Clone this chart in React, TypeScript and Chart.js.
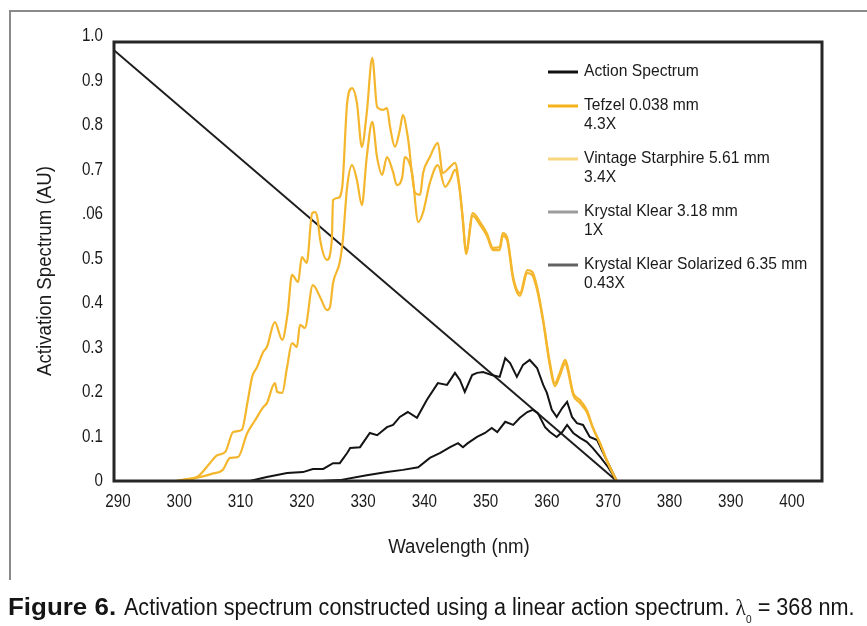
import React, { useEffect, useRef } from "react";
import { Chart, registerables } from "chart.js";

Chart.register(...registerables);

// ---- axis ticks ----
const xTickValues = [290, 300, 310, 320, 330, 340, 350, 360, 370, 380, 390, 400];
const xTickLabels = ["290", "300", "310", "320", "330", "340", "350", "360", "370", "380", "390", "400"];
const yTickValues = [0, 0.1, 0.2, 0.3, 0.4, 0.5, 0.6, 0.7, 0.8, 0.9, 1.0];
const yTickLabels = ["0", "0.1", "0.2", "0.3", "0.4", "0.5", ".06", "0.7", "0.8", "0.9", "1.0"];
const xRange = [289.35, 404.9];
const yRange = [0, 0.9865];

const xTitle = "Wavelength (nm)";
const yTitle = "Activation Spectrum (AU)";

// ---- series: [wavelength nm, activation AU] ----
const actionSpectrum: [number, number][] = [
  [289.35, 0.968],
  [371.4, 0],
];

const tefzel: [number, number][] = [
  [299.5, 0], [300.9, 0.004], [302.9, 0.009], [305.0, 0.04], [306.2, 0.058], [307.5, 0.065],
  [308.8, 0.11], [310.2, 0.115], [311.2, 0.182], [311.9, 0.234], [312.7, 0.256], [313.7, 0.29],
  [314.3, 0.301], [315.6, 0.357], [316.8, 0.317], [317.7, 0.378], [318.4, 0.463], [319.4, 0.447],
  [320.0, 0.503], [320.8, 0.49], [321.7, 0.602], [322.2, 0.604], [322.6, 0.587], [323.0, 0.542],
  [324.1, 0.497], [324.9, 0.542], [325.1, 0.631], [325.9, 0.636], [326.6, 0.661], [327.4, 0.849],
  [328.2, 0.883], [329.0, 0.849], [329.8, 0.751], [330.6, 0.827], [331.5, 0.951], [332.3, 0.84],
  [333.3, 0.834], [333.9, 0.838], [334.4, 0.796], [335.2, 0.751], [336.0, 0.789], [336.5, 0.822],
  [337.3, 0.773], [338.5, 0.647], [339.3, 0.643], [339.8, 0.692], [340.9, 0.728], [342.2, 0.76],
  [343.0, 0.692], [344.2, 0.706], [345.0, 0.715], [345.7, 0.665], [346.3, 0.587], [346.8, 0.515],
  [347.9, 0.602], [349.1, 0.582], [350.2, 0.557], [351.2, 0.524], [352.3, 0.526], [352.8, 0.557],
  [353.5, 0.548], [354.5, 0.458], [355.6, 0.422], [356.8, 0.474], [357.6, 0.47], [358.4, 0.436],
  [359.4, 0.362], [360.5, 0.265], [361.3, 0.22], [362.1, 0.243], [363.0, 0.272], [363.4, 0.256],
  [364.3, 0.198], [365.4, 0.182], [366.5, 0.16], [367.5, 0.121], [368.7, 0.085], [370.0, 0.04],
  [371.4, 0],
];

const vintageStarphire: [number, number][] = [
  [300.6, 0], [303.4, 0.009], [305.3, 0.016], [307.1, 0.025], [308.3, 0.052], [309.6, 0.054],
  [311.1, 0.108], [312.4, 0.137], [313.7, 0.166], [314.3, 0.175], [315.6, 0.22], [316.0, 0.2],
  [316.8, 0.198], [317.6, 0.256], [318.4, 0.31], [319.2, 0.301], [319.7, 0.351], [320.5, 0.344],
  [321.8, 0.44], [323.0, 0.413], [324.1, 0.384], [324.6, 0.391], [325.1, 0.445], [326.2, 0.492],
  [326.7, 0.542], [327.4, 0.661], [328.2, 0.71], [329.0, 0.676], [329.8, 0.62], [330.6, 0.728],
  [331.5, 0.807], [332.3, 0.726], [333.1, 0.688], [333.9, 0.728], [334.9, 0.694], [335.5, 0.665],
  [336.4, 0.683], [336.8, 0.728], [338.0, 0.692], [339.0, 0.582], [339.8, 0.604], [340.9, 0.67],
  [342.2, 0.71], [343.4, 0.661], [344.2, 0.676], [345.0, 0.699], [345.7, 0.661], [346.3, 0.582],
  [346.8, 0.51], [347.9, 0.596], [349.1, 0.575], [350.2, 0.551], [351.2, 0.519], [352.3, 0.519],
  [352.8, 0.551], [353.5, 0.542], [354.5, 0.452], [355.6, 0.416], [356.8, 0.467], [357.6, 0.463],
  [358.4, 0.429], [359.4, 0.357], [360.5, 0.258], [361.3, 0.213], [362.1, 0.236], [363.0, 0.265],
  [363.4, 0.249], [364.3, 0.193], [365.4, 0.175], [366.5, 0.155], [367.5, 0.119], [368.7, 0.083],
  [370.0, 0.038], [371.4, 0],
];

const krystalKlear: [number, number][] = [
  [311.5, 0], [314.3, 0.009], [317.6, 0.018], [320.2, 0.02], [321.8, 0.027], [323.5, 0.027],
  [325.1, 0.04], [326.2, 0.04], [327.4, 0.063], [327.9, 0.074], [329.5, 0.076], [331.1, 0.108],
  [332.3, 0.103], [333.9, 0.121], [334.9, 0.126], [336.0, 0.144], [337.3, 0.155], [338.8, 0.142],
  [340.4, 0.182], [342.2, 0.22], [343.7, 0.216], [345.0, 0.243], [345.8, 0.227], [346.6, 0.2],
  [347.8, 0.238], [348.6, 0.243], [349.6, 0.245], [351.0, 0.238], [352.3, 0.234], [353.2, 0.276],
  [354.0, 0.265], [355.1, 0.234], [356.1, 0.261], [357.2, 0.272], [358.4, 0.254], [359.4, 0.216],
  [360.0, 0.198], [360.8, 0.16], [361.6, 0.144], [362.5, 0.164], [363.3, 0.178], [364.1, 0.144],
  [364.9, 0.13], [365.9, 0.126], [367.0, 0.099], [368.2, 0.092], [369.5, 0.054], [371.4, 0],
];

const krystalKlearSolarized: [number, number][] = [
  [323.0, 0], [326.2, 0.002], [330.6, 0.013], [333.9, 0.02], [336.5, 0.025], [339.0, 0.031],
  [340.9, 0.052], [342.6, 0.063], [344.2, 0.076], [345.5, 0.085], [346.3, 0.076], [347.1, 0.085],
  [348.6, 0.099], [349.9, 0.108], [351.0, 0.119], [351.9, 0.11], [353.2, 0.133], [354.5, 0.126],
  [355.6, 0.142], [356.8, 0.155], [357.7, 0.16], [358.5, 0.153], [359.7, 0.121], [360.5, 0.11],
  [361.6, 0.099], [362.5, 0.11], [363.3, 0.126], [364.3, 0.108], [365.4, 0.097], [366.5, 0.088],
  [367.5, 0.074], [368.7, 0.054], [370.0, 0.031], [371.4, 0],
];

// ---- legend ----
const legendLabels: string[][] = [
  ["Action Spectrum"],
  ["Tefzel 0.038 mm", "4.3X"],
  ["Vintage Starphire 5.61 mm", "3.4X"],
  ["Krystal Klear 3.18 mm", "1X"],
  ["Krystal Klear Solarized 6.35 mm", "0.43X"],
];
const legendColors = ["#111111", "#f5b21a", "#f9d680", "#9c9c9c", "#626262"];

const SANS = '"Liberation Sans", Arial, Helvetica, sans-serif';
const YELLOW = "#f4b62c";
const BLACK = "#141414";
const TEXT = "#1a1a1a";

const toPts = (arr: [number, number][]) => arr.map(([x, y]) => ({ x, y }));

function squeezedText(ctx: any, text: string, x: number, y: number, sx: number, rot = 0) {
  ctx.save();
  ctx.translate(x, y);
  if (rot) ctx.rotate(rot);
  ctx.scale(sx, 1);
  ctx.fillText(text, 0, 0);
  ctx.restore();
}

const framePlugin = {
  id: "frame",
  afterDatasetsDraw(chart: any) {
    const { ctx, chartArea: a } = chart;
    ctx.save();
    ctx.strokeStyle = "#262626";
    ctx.lineWidth = 3;
    ctx.strokeRect(a.left, a.top, a.right - a.left, a.bottom - a.top);
    ctx.restore();
  },
};

const textPlugin = {
  id: "texts",
  afterDraw(chart: any) {
    const { ctx, chartArea: a, scales } = chart;
    ctx.save();
    ctx.fillStyle = TEXT;

    // tick labels
    ctx.font = `18.5px ${SANS}`;
    ctx.textBaseline = "middle";
    ctx.textAlign = "center";
    xTickValues.forEach((v, i) => {
      squeezedText(ctx, xTickLabels[i], scales.x.getPixelForValue(v), a.bottom + 21, 0.82);
    });
    ctx.textAlign = "right";
    yTickValues.forEach((v, i) => {
      squeezedText(ctx, yTickLabels[i], a.left - 11, scales.y.getPixelForValue(v), 0.82);
    });

    // legend
    const lx = a.left + 434;
    const rowY = [71, 105, 158, 211, 264];
    ctx.font = `17px ${SANS}`;
    ctx.textAlign = "left";
    ctx.textBaseline = "middle";
    legendLabels.forEach((lines, i) => {
      const y = a.top + (rowY[i] - 42);
      ctx.strokeStyle = legendColors[i];
      ctx.lineWidth = 3;
      ctx.beginPath();
      ctx.moveTo(lx, y + 1);
      ctx.lineTo(lx + 30, y + 1);
      ctx.stroke();
      lines.forEach((t, j) => squeezedText(ctx, t, lx + 36, y + j * 19, 0.92));
    });

    // axis titles
    ctx.font = `20px ${SANS}`;
    ctx.textAlign = "center";
    ctx.textBaseline = "alphabetic";
    squeezedText(ctx, xTitle, a.left + 345, a.bottom + 72, 0.935);
    squeezedText(ctx, yTitle, 51, a.top + 229, 0.935, -Math.PI / 2);
    ctx.restore();
  },
};

export default function App() {
  const ref = useRef<HTMLCanvasElement | null>(null);

  useEffect(() => {
    if (!ref.current) return;
    const line = (label: string, pts: [number, number][], color: string, smooth: boolean, width: number) => ({
      label,
      data: toPts(pts),
      borderColor: color,
      backgroundColor: color,
      borderWidth: width,
      pointRadius: 0,
      fill: false,
      tension: smooth ? 0.35 : 0,
      cubicInterpolationMode: smooth ? ("monotone" as const) : ("default" as const),
    });
    const chart = new Chart(ref.current, {
      type: "line",
      data: {
        datasets: [
          line("Vintage Starphire 5.61 mm", vintageStarphire, YELLOW, true, 2.2),
          line("Tefzel 0.038 mm", tefzel, YELLOW, true, 2.2),
          line("Krystal Klear 3.18 mm", krystalKlear, BLACK, false, 2),
          line("Krystal Klear Solarized 6.35 mm", krystalKlearSolarized, BLACK, false, 2),
          line("Action Spectrum", actionSpectrum, "#1e1e1e", false, 2),
        ],
      },
      options: {
        responsive: false,
        animation: false,
        events: [],
        layout: { padding: { left: 0, top: 42, right: 45, bottom: 105 } },
        plugins: { legend: { display: false }, tooltip: { enabled: false }, title: { display: false } },
        scales: {
          x: {
            type: "linear",
            min: xRange[0],
            max: xRange[1],
            grid: { display: false, drawTicks: false },
            border: { display: false },
            ticks: { display: false },
            afterBuildTicks: (s: any) => {
              s.ticks = xTickValues.map((v) => ({ value: v }));
            },
            afterFit: (s: any) => {
              s.height = 40;
            },
          },
          y: {
            type: "linear",
            min: yRange[0],
            max: yRange[1],
            grid: { display: false, drawTicks: false },
            border: { display: false },
            ticks: { display: false },
            afterBuildTicks: (s: any) => {
              s.ticks = yTickValues.map((v) => ({ value: v }));
            },
            afterFit: (s: any) => {
              s.width = 114;
            },
          },
        },
      },
      plugins: [framePlugin, textPlugin],
    });
    return () => chart.destroy();
  }, []);

  return (
    <div style={{ position: "absolute", left: 0, top: 0, width: 867, height: 626, overflow: "hidden", background: "#fff" }}>
      <div
        style={{
          position: "absolute",
          left: 9,
          top: 10,
          width: 870,
          height: 568,
          borderLeft: "2px solid #8a8a8a",
          borderTop: "2px solid #8a8a8a",
        }}
      />
      <canvas ref={ref} width={867} height={626} style={{ position: "absolute", left: 0, top: 0, display: "block" }} />
      <div
        style={{
          position: "absolute",
          left: 8,
          top: 596,
          whiteSpace: "nowrap",
          fontFamily: SANS,
          fontSize: 23.5,
          lineHeight: 1,
          color: "#151515",
          transform: "scaleX(0.92)",
          transformOrigin: "left top",
        }}
      >
        <span style={{ display: "inline-block", width: 126 }}>
          <span style={{ display: "inline-block", fontWeight: 700, transform: "scaleX(1.2)", transformOrigin: "left center" }}>
            Figure 6.
          </span>
        </span>
        {"Activation spectrum constructed using a linear action spectrum. "}
        <span style={{ fontFamily: '"Liberation Serif", "DejaVu Serif", serif' }}>λ</span>
        <sub style={{ fontSize: 11, lineHeight: 0, verticalAlign: "-8px" }}>0</sub>
        {" = 368 nm."}
      </div>
    </div>
  );
}
